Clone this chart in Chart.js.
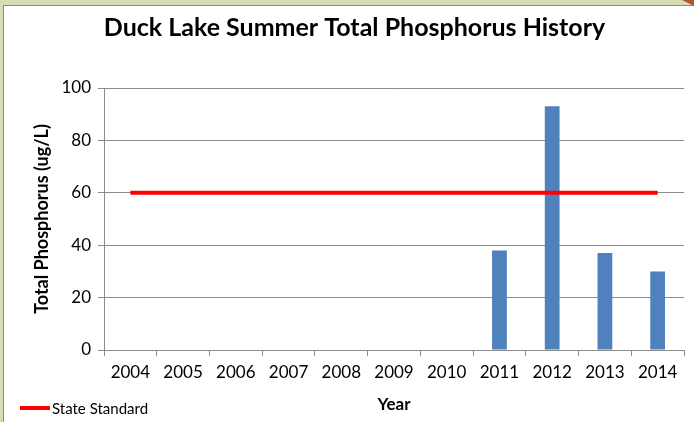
<!DOCTYPE html>
<html>
<head>
<meta charset="utf-8">
<script src="https://cdn.jsdelivr.net/npm/chart.js@4"></script>
<style>
  html, body { margin: 0; padding: 0; }
  body { width: 694px; height: 422px; background: #d6ddb4; position: relative; overflow: hidden; }
  #frame { position: absolute; left: 3px; top: 5px; width: 691px; height: 417px; background: #fff;
           border-left: 1px solid #8a8a8a; border-top: 1px solid #8a8a8a; }
  #corner { position: absolute; right: 0; top: 0; width: 0; height: 0;
            border-top: 6px solid #b0563a; border-left: 12px solid transparent; }
  #chartBox { position: absolute; left: 0; top: 0; width: 690px; height: 416px; }
  #legend { position: absolute; left: 16px; top: 393px; font: 15px Lato, sans-serif; color: #000;
            display: flex; align-items: center; }
  #legend .swatch { width: 30px; height: 4px; background: #ff0000; margin-right: 2px; }
</style>
</head>
<body>
<div id="frame">
  <div id="chartBox"><canvas id="tpChart" width="690" height="416"></canvas></div>
  <div id="legend"><span class="swatch"></span><span id="legendText"></span></div>
</div>
<div id="corner"></div>
<script>
  // Datos
  const years = ['2004', '2005', '2006', '2007', '2008', '2009', '2010', '2011', '2012', '2013', '2014'];
  const phosphorus = [null, null, null, null, null, null, null, 38, 93, 37, 30];
  const stateStandard = [60, 60, 60, 60, 60, 60, 60, 60, 60, 60, 60];
  const yTicks = [0, 20, 40, 60, 80, 100];

  const gridColor = '#8c8c8c';
  const fontFamily = 'Lato, sans-serif';

  document.getElementById('legendText').textContent = 'State Standard';

  new Chart(document.getElementById('tpChart'), {
    type: 'bar',
    data: {
      labels: years,
      datasets: [
        {
          type: 'line',
          label: 'State Standard',
          data: stateStandard,
          borderColor: '#ff0000',
          borderWidth: 4,
          pointRadius: 0,
          fill: false,
          order: 0
        },
        {
          type: 'bar',
          label: 'Total Phosphorus',
          data: phosphorus,
          backgroundColor: '#4f81bd',
          categoryPercentage: 1,
          barPercentage: 0.28,
          order: 1
        }
      ]
    },
    options: {
      responsive: false,
      animation: false,
      layout: { padding: { left: 21, right: 10, top: 0, bottom: 0 } },
      plugins: {
        legend: { display: false },
        tooltip: { enabled: false },
        title: {
          display: true,
          text: 'Duck Lake Summer Total Phosphorus History',
          color: '#000',
          font: { family: fontFamily, size: 25, weight: 'bold' },
          padding: { top: 7, bottom: 45 }
        }
      },
      scales: {
        x: {
          grid: { display: true, drawOnChartArea: false, drawTicks: true, tickLength: 6, color: gridColor, offset: true },
          border: { color: gridColor },
          ticks: { color: '#000', font: { family: fontFamily, size: 17 }, padding: 6, maxRotation: 0, autoSkip: false },
          title: {
            display: true,
            text: 'Year',
            color: '#000',
            font: { family: fontFamily, size: 17, weight: 'bold' },
            padding: { top: 0, bottom: 7 }
          },
          afterFit: (scale) => { scale.height = 72; }
        },
        y: {
          min: 0,
          max: 100,
          afterBuildTicks: (scale) => { scale.ticks = yTicks.map(v => ({ value: v })); },
          grid: { color: gridColor, tickLength: 6, drawTicks: true },
          border: { color: gridColor },
          ticks: { color: '#000', font: { family: fontFamily, size: 17 }, padding: 7 },
          title: {
            display: true,
            text: 'Total Phosphorus (ug/L)',
            color: '#000',
            font: { family: fontFamily, size: 18, weight: 'bold' },
            padding: { top: 6, bottom: 0 }
          },
          afterFit: (scale) => { scale.width = 79; }
        }
      }
    }
  });
</script>
</body>
</html>
